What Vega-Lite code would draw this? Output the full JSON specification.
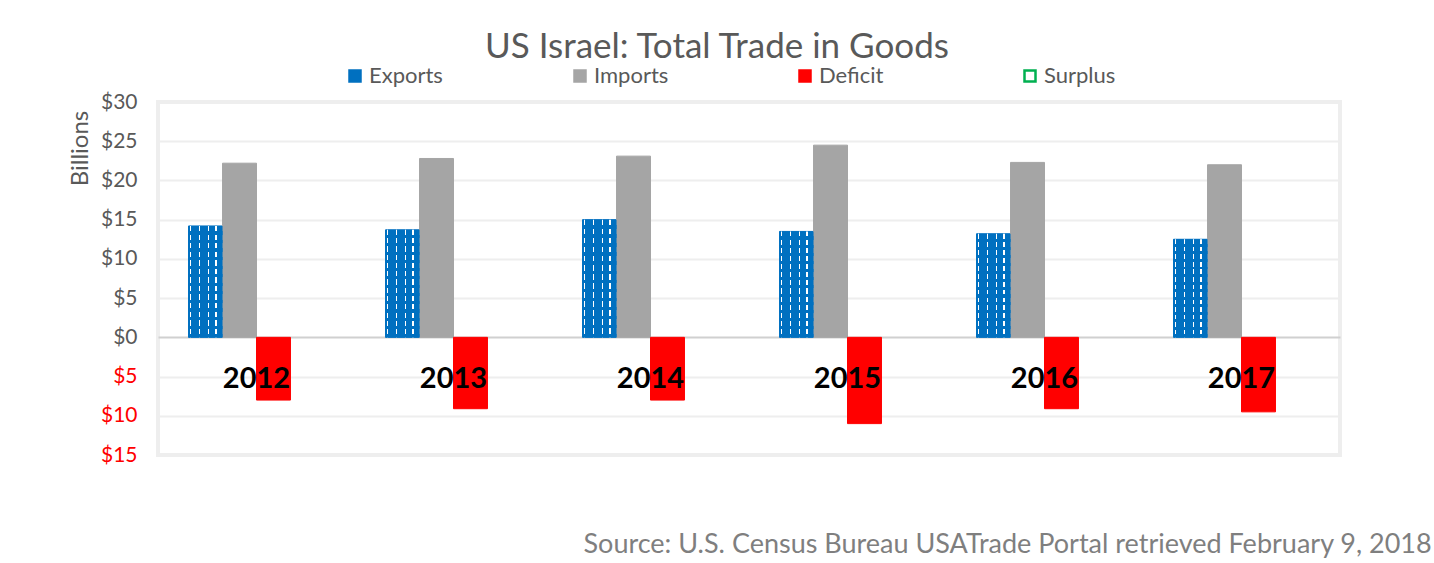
{
  "$schema": "https://vega.github.io/schema/vega-lite/v6.json",
  "width": 1182,
  "height": 353,
  "autosize": {"type": "none"},
  "padding": {"left": 158, "top": 102, "right": 94, "bottom": 108},
  "background": "white",
  "config": {"font": "Lato", "view": {"stroke": "#EEEEEE", "strokeWidth": 4}},
  "title": {
    "text": "US Israel: Total Trade in Goods",
    "font": "Lato", "fontSize": 35, "fontWeight": "normal", "color": "#595959",
    "anchor": "middle", "frame": "group", "dx": -32, "offset": -28, "baseline": "alphabetic"
  },
  "data": {
    "values": [
      {"year": "2012", "series": "Exports", "value": 14.2},
      {"year": "2012", "series": "Imports", "value": 22.2},
      {"year": "2012", "series": "Deficit", "value": -8.0},
      {"year": "2013", "series": "Exports", "value": 13.7},
      {"year": "2013", "series": "Imports", "value": 22.8},
      {"year": "2013", "series": "Deficit", "value": -9.1},
      {"year": "2014", "series": "Exports", "value": 15.0},
      {"year": "2014", "series": "Imports", "value": 23.1},
      {"year": "2014", "series": "Deficit", "value": -8.0},
      {"year": "2015", "series": "Exports", "value": 13.5},
      {"year": "2015", "series": "Imports", "value": 24.5},
      {"year": "2015", "series": "Deficit", "value": -11.0},
      {"year": "2016", "series": "Exports", "value": 13.2},
      {"year": "2016", "series": "Imports", "value": 22.3},
      {"year": "2016", "series": "Deficit", "value": -9.1},
      {"year": "2017", "series": "Exports", "value": 12.5},
      {"year": "2017", "series": "Imports", "value": 22.0},
      {"year": "2017", "series": "Deficit", "value": -9.5}
    ]
  },
  "encoding": {
    "x": {
      "field": "year", "type": "nominal",
      "scale": {"paddingInner": 0.31, "paddingOuter": 0.155},
      "axis": {
        "labels": false, "ticks": false, "domain": false, "grid": false,
        "title": "Source: U.S. Census Bureau USATrade Portal retrieved February 9, 2018",
        "titleFont": "Lato", "titleFontSize": 27, "titleFontWeight": "normal", "titleColor": "#7F7F7F",
        "titleX": 425, "titleY": 97, "titleAlign": "left", "titleBaseline": "alphabetic",
        "titleAnchor": "start", "titleLimit": 3000
      }
    },
    "y": {
      "field": "value", "type": "quantitative",
      "scale": {"domain": [-15, 30], "nice": false},
      "axis": {
        "values": [-15, -10, -5, 0, 5, 10, 15, 20, 25, 30],
        "labelExpr": "'$' + abs(datum.value)",
        "labelColor": {"expr": "datum.value < 0 ? '#FF0000' : '#595959'"},
        "labelFont": "Lato", "labelFontSize": 21, "labelPadding": 21,
        "ticks": false, "tickSize": 0, "domain": false,
        "gridColor": {"expr": "datum.value === 0 ? '#D0D0D0' : '#EEEEEE'"},
        "gridWidth": 2,
        "title": "Billions", "titleFont": "Lato", "titleFontSize": 24, "titleFontWeight": "normal",
        "titleColor": "#595959", "titleX": -71, "titleY": 46, "titleAngle": -90,
        "titleAlign": "center", "titleBaseline": "alphabetic"
      }
    }
  },
  "layer": [
    {
      "mark": {"type": "bar", "strokeWidth": 1},
      "encoding": {
        "xOffset": {"field": "series", "type": "nominal", "scale": {"domain": ["Exports", "Imports", "Deficit", "Surplus"], "paddingInner": 0}},
        "fill": {
          "field": "series", "type": "nominal",
          "scale": {"domain": ["Exports", "Imports", "Deficit", "Surplus"], "range": ["#0070C0", "#A5A5A5", "#FF0000", "#FFFFFF"]},
          "legend": {
            "title": null, "orient": "none", "direction": "horizontal", "legendX": 186, "legendY": -37,
            "symbolType": "square", "symbolSize": 121, "symbolStrokeWidth": 2.5,
            "labelFont": "Lato", "labelFontSize": 22, "labelColor": "#595959",
            "columnPadding": 125, "gridAlign": "all", "labelOffset": 3, "padding": 0, "columns": 4
          }
        },
        "stroke": {
          "field": "series", "type": "nominal",
          "scale": {"domain": ["Exports", "Imports", "Deficit", "Surplus"], "range": ["#0070C0", "#A5A5A5", "#FF0000", "#00B050"]},
          "legend": {
            "title": null, "orient": "none", "direction": "horizontal", "legendX": 186, "legendY": -37,
            "symbolType": "square", "symbolSize": 121, "symbolStrokeWidth": 2.5,
            "labelFont": "Lato", "labelFontSize": 22, "labelColor": "#595959",
            "columnPadding": 125, "gridAlign": "all", "labelOffset": 3, "padding": 0, "columns": 4
          }
        }
      }
    },
    {
      "transform": [{"filter": "datum.series === 'Exports'"}],
      "mark": {
        "type": "bar",
        "fill": {
          "gradient": "linear", "x1": 0, "y1": 0, "x2": 1, "y2": 0,
          "stops": [
            {"offset": 0, "color": "#0070C0"}, {"offset": 0.03, "color": "#0070C0"},
            {"offset": 0.03, "color": "#FFFFFF"}, {"offset": 0.07, "color": "#FFFFFF"},
            {"offset": 0.07, "color": "#0070C0"}, {"offset": 0.31, "color": "#0070C0"},
            {"offset": 0.31, "color": "#FFFFFF"}, {"offset": 0.35, "color": "#FFFFFF"},
            {"offset": 0.35, "color": "#0070C0"}, {"offset": 0.56, "color": "#0070C0"},
            {"offset": 0.56, "color": "#FFFFFF"}, {"offset": 0.60, "color": "#FFFFFF"},
            {"offset": 0.60, "color": "#0070C0"}, {"offset": 0.79, "color": "#0070C0"},
            {"offset": 0.79, "color": "#FFFFFF"}, {"offset": 0.83, "color": "#FFFFFF"},
            {"offset": 0.83, "color": "#0070C0"}, {"offset": 1, "color": "#0070C0"}
          ]
        }
      },
      "encoding": {
        "xOffset": {"field": "series", "type": "nominal", "scale": {"domain": ["Exports", "Imports", "Deficit", "Surplus"], "paddingInner": 0}}
      }
    },
    {
      "transform": [{"filter": "datum.series === 'Exports'"}],
      "mark": {
        "type": "bar",
        "fill": {
          "gradient": "linear", "x1": 0, "y1": 0, "x2": 0, "y2": 1,
          "stops": [
            {"offset": 0, "color": "rgba(0,112,192,0)"}, {"offset": 0.0477, "color": "rgba(0,112,192,0)"},
            {"offset": 0.0477, "color": "#0070C0"}, {"offset": 0.0769, "color": "#0070C0"},
            {"offset": 0.0769, "color": "rgba(0,112,192,0)"}, {"offset": 0.1246, "color": "rgba(0,112,192,0)"},
            {"offset": 0.1246, "color": "#0070C0"}, {"offset": 0.1538, "color": "#0070C0"},
            {"offset": 0.1538, "color": "rgba(0,112,192,0)"}, {"offset": 0.2015, "color": "rgba(0,112,192,0)"},
            {"offset": 0.2015, "color": "#0070C0"}, {"offset": 0.2308, "color": "#0070C0"},
            {"offset": 0.2308, "color": "rgba(0,112,192,0)"}, {"offset": 0.2785, "color": "rgba(0,112,192,0)"},
            {"offset": 0.2785, "color": "#0070C0"}, {"offset": 0.3077, "color": "#0070C0"},
            {"offset": 0.3077, "color": "rgba(0,112,192,0)"}, {"offset": 0.3554, "color": "rgba(0,112,192,0)"},
            {"offset": 0.3554, "color": "#0070C0"}, {"offset": 0.3846, "color": "#0070C0"},
            {"offset": 0.3846, "color": "rgba(0,112,192,0)"}, {"offset": 0.4323, "color": "rgba(0,112,192,0)"},
            {"offset": 0.4323, "color": "#0070C0"}, {"offset": 0.4615, "color": "#0070C0"},
            {"offset": 0.4615, "color": "rgba(0,112,192,0)"}, {"offset": 0.5092, "color": "rgba(0,112,192,0)"},
            {"offset": 0.5092, "color": "#0070C0"}, {"offset": 0.5385, "color": "#0070C0"},
            {"offset": 0.5385, "color": "rgba(0,112,192,0)"}, {"offset": 0.5862, "color": "rgba(0,112,192,0)"},
            {"offset": 0.5862, "color": "#0070C0"}, {"offset": 0.6154, "color": "#0070C0"},
            {"offset": 0.6154, "color": "rgba(0,112,192,0)"}, {"offset": 0.6631, "color": "rgba(0,112,192,0)"},
            {"offset": 0.6631, "color": "#0070C0"}, {"offset": 0.6923, "color": "#0070C0"},
            {"offset": 0.6923, "color": "rgba(0,112,192,0)"}, {"offset": 0.7400, "color": "rgba(0,112,192,0)"},
            {"offset": 0.7400, "color": "#0070C0"}, {"offset": 0.7692, "color": "#0070C0"},
            {"offset": 0.7692, "color": "rgba(0,112,192,0)"}, {"offset": 0.8169, "color": "rgba(0,112,192,0)"},
            {"offset": 0.8169, "color": "#0070C0"}, {"offset": 0.8462, "color": "#0070C0"},
            {"offset": 0.8462, "color": "rgba(0,112,192,0)"}, {"offset": 0.8938, "color": "rgba(0,112,192,0)"},
            {"offset": 0.8938, "color": "#0070C0"}, {"offset": 0.9231, "color": "#0070C0"},
            {"offset": 0.9231, "color": "rgba(0,112,192,0)"}, {"offset": 0.9708, "color": "rgba(0,112,192,0)"},
            {"offset": 0.9708, "color": "#0070C0"}, {"offset": 1, "color": "#0070C0"}
          ]
        }
      },
      "encoding": {
        "xOffset": {"field": "series", "type": "nominal", "scale": {"domain": ["Exports", "Imports", "Deficit", "Surplus"], "paddingInner": 0}}
      }
    },
    {
      "transform": [{"filter": "datum.series === 'Imports'"}],
      "mark": {"type": "text", "font": "Lato", "fontSize": 29, "fontWeight": "bold", "color": "#000000", "baseline": "middle"},
      "encoding": {
        "text": {"field": "year", "type": "nominal"},
        "y": {"datum": -5.3}
      }
    }
  ]
}
